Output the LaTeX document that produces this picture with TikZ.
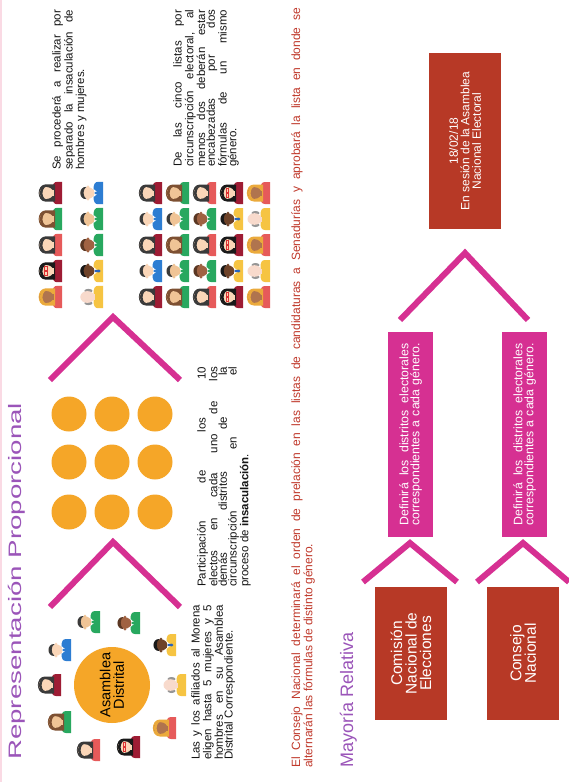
\documentclass[tikz,border=0pt]{standalone}
\usepackage{fontspec}
\setmainfont{Liberation Sans}
\usepackage{graphicx}

% palette
\definecolor{magentaA}{RGB}{214,48,146}
\definecolor{brick}{RGB}{183,57,38}
\definecolor{violetT}{RGB}{155,85,185}
\definecolor{orangeD}{RGB}{245,166,40}
\definecolor{redtext}{RGB}{192,57,43}
\definecolor{pinkedge}{RGB}{250,218,228}
\definecolor{bodytext}{RGB}{20,20,20}
% avatar palette
\definecolor{skinL}{RGB}{250,214,184}
\definecolor{skinB}{RGB}{240,196,150}
\definecolor{skinP}{RGB}{248,218,204}
\definecolor{skinM}{RGB}{160,98,66}
\definecolor{skinD}{RGB}{110,66,40}
\definecolor{skinO}{RGB}{176,116,78}
\definecolor{hairK}{RGB}{25,25,25}
\definecolor{hairD}{RGB}{58,58,58}
\definecolor{hairN}{RGB}{125,80,50}
\definecolor{hairC}{RGB}{90,55,35}
\definecolor{hairO}{RGB}{235,170,60}
\definecolor{hairG}{RGB}{150,150,150}
\definecolor{shirtM}{RGB}{158,28,52}
\definecolor{shirtB}{RGB}{45,125,210}
\definecolor{shirtG}{RGB}{40,168,95}
\definecolor{shirtR}{RGB}{230,90,90}
\definecolor{shirtY}{RGB}{246,196,66}
\definecolor{tieB}{RGB}{40,100,190}
\definecolor{glassR}{RGB}{220,50,50}

\tikzset{
  heading/.style={rotate=90, inner sep=0, text=violetT, font=\fontsize{18}{18}\selectfont},
  body/.style={rotate=90, anchor=north west, inner sep=0, align=left, text=bodytext,
    font=\fontsize{11.5}{9.6}\selectfont},
  chev/.style={draw=magentaA, line width=6, line join=miter},
  dot/.style={circle, fill=orangeD, minimum size=35, inner sep=0},
  redbox/.style={rotate=90, fill=brick, text=white, align=center, inner sep=0},
  pinkbox/.style={rotate=90, fill=magentaA, text=white, align=left, inner sep=0,
    font=\fontsize{12.3}{11}\selectfont},
  icon/.style={rotate=90},
  % avatars: shirt, hair, neck, face
  pics/woman/.style n args={4}{code={
    \fill[#3] (-11,-12) -- (-11,-7) .. controls (-11,-3.5) and (-8,-2.5) .. (-4,-2.5)
      -- (4,-2.5) .. controls (8,-2.5) and (11,-3.5) .. (11,-7) -- (11,-12) -- cycle;
    \fill[#2] (-8.5,-5) -- (-8.5,4) .. controls (-8.5,13.5) and (8.5,13.5) .. (8.5,4)
      -- (8.5,-5) -- cycle;
    \fill[#1] (-2.5,-3.5) rectangle (2.5,0);
    \fill[#1] (0,3.5) ellipse [x radius=5.8, y radius=6.8];
    \fill[#2] (-6,5) .. controls (-6,12) and (6,12) .. (6,5)
      .. controls (2,8.5) and (-3,8) .. (-6,5) -- cycle;
    \path[draw=#4, line width=0.9] (-4.8,2.4) rectangle (-0.9,5) (0.9,2.4) rectangle (4.8,5);
  }},
  pics/man/.style n args={4}{code={
    \fill[#3] (-11,-12) -- (-11,-7) .. controls (-11,-3.5) and (-8,-2.5) .. (-4,-2.5)
      -- (4,-2.5) .. controls (8,-2.5) and (11,-3.5) .. (11,-7) -- (11,-12) -- cycle;
    \fill[white] (-4,-2.5) -- (0,-7) -- (4,-2.5) -- cycle;
    \fill[#4] (-1,-3.5) -- (1,-3.5) -- (1.3,-8) -- (0,-9.5) -- (-1.3,-8) -- cycle;
    \fill[#1] (-2.5,-3.2) rectangle (2.5,0);
    \fill[#1] (-6,3) circle [radius=1.5] (6,3) circle [radius=1.5];
    \fill[#1] (0,3.5) ellipse [x radius=5.8, y radius=6.8];
    \fill[#2] (-6,4.5) .. controls (-6.5,12.5) and (6.5,12.5) .. (6,4.5)
      .. controls (4,8) and (-3,8.5) .. (-6,4.5) -- cycle;
  }},
  pics/bald/.style n args={3}{code={
    \fill[#3] (-11,-12) -- (-11,-7) .. controls (-11,-3.5) and (-8,-2.5) .. (-4,-2.5)
      -- (4,-2.5) .. controls (8,-2.5) and (11,-3.5) .. (11,-7) -- (11,-12) -- cycle;
    \fill[#1] (-2.5,-3.5) rectangle (2.5,0);
    \fill[#2] (-6,2.5) ellipse [x radius=2, y radius=4] (6,2.5) ellipse [x radius=2, y radius=4];
    \fill[#1] (0,3.5) ellipse [x radius=5.8, y radius=7];
  }},
  pics/wMaroon/.style={/tikz/pics/woman={skinL}{hairD}{shirtM}{none}},
  pics/wGlasses/.style={/tikz/pics/woman={skinL}{hairK}{shirtM}{glassR}},
  pics/wRed/.style={/tikz/pics/woman={skinL}{hairD}{shirtR}{none}},
  pics/wBrown/.style={/tikz/pics/woman={skinB}{hairN}{shirtG}{none}},
  pics/wOrange/.style={/tikz/pics/woman={skinO}{hairO}{shirtR}{none}},
  pics/mBlue/.style={/tikz/pics/man={skinL}{hairD}{shirtB}{shirtB}},
  pics/mBeige/.style={/tikz/pics/man={skinB}{hairD}{shirtG}{shirtG}},
  pics/mBrown/.style={/tikz/pics/man={skinM}{hairC}{shirtG}{shirtG}},
  pics/mDark/.style={/tikz/pics/man={skinD}{hairK}{shirtY}{tieB}},
  pics/mBald/.style={/tikz/pics/bald={skinP}{hairG}{shirtY}},
}

\begin{document}
\begin{tikzpicture}[x=1pt,y=1pt]
\useasboundingbox (0,0) rectangle (569,-782);
\fill[white] (0,0) rectangle (569,-782);
\draw[pinkedge, line width=1.5] (0.8,0) -- (0.8,-782);

% ---------- Representación Proporcional ----------
\node[heading, anchor=base west] (tRP) at (21.5,-760)
  {\resizebox{357pt}{\height}{Representación Proporcional}};

\node[circle, fill=orangeD, minimum size=76, inner sep=0, align=center, rotate=90,
  font=\fontsize{14.5}{13.5}\selectfont] (asam) at (112,-685) {Asamblea\\Distrital};

% members around the district assembly
\pic[icon] at (88,-622)  {mBeige};
\pic[icon] at (128,-623) {mBrown};
\pic[icon] at (59,-650)  {mBlue};
\pic[icon] at (164,-645) {mDark};
\pic[icon] at (49,-685)  {wMaroon};
\pic[icon] at (174,-685) {mBald};
\pic[icon] at (59,-722)  {wBrown};
\pic[icon] at (164,-728) {wOrange};
\pic[icon] at (88,-750)  {wRed};
\pic[icon] at (128,-747) {wGlasses};

\node[body] (pAfil) at (191,-760)
  {\makebox[155pt][s]{Las y los afiliados al Morena}\\
   \makebox[155pt][s]{eligen hasta 5 mujeres y 5}\\
   \makebox[155pt][s]{hombres en su Asamblea}\\
   Distrital Correspondiente.};

\draw[chev] (50,-607) -- (113,-542) -- (180,-607);

% the ten elected per district
\foreach \cx [count=\i] in {69,112,155}
  \foreach \cy [count=\j] in {414,462,512}
    \node[dot] (d\i\j) at (\cx,-\cy) {};

\node[body] (pPart) at (197,-587)
  {\makebox[220pt][s]{Participación de los 10}\\
   \makebox[220pt][s]{electos en cada uno de los}\\
   \makebox[220pt][s]{demás distritos de la}\\
   \makebox[220pt][s]{circunscripción en el}\\
   proceso de \textbf{insaculación}.};

\draw[chev] (50,-380) -- (113,-317) -- (180,-380);

% separate draw: women above, men below
\pic[icon, scale=1.02] at (50,-193) {wMaroon};
\pic[icon, scale=1.02] at (50,-219) {wBrown};
\pic[icon, scale=1.02] at (50,-245) {wRed};
\pic[icon, scale=1.02] at (50,-271) {wGlasses};
\pic[icon, scale=1.02] at (50,-297) {wOrange};
\pic[icon, scale=1.02] at (91,-193) {mBlue};
\pic[icon, scale=1.02] at (91,-219) {mBeige};
\pic[icon, scale=1.02] at (91,-245) {mBrown};
\pic[icon, scale=1.02] at (91,-271) {mDark};
\pic[icon, scale=1.02] at (91,-297) {mBald};

\node[body] (pSep) at (52,-170)
  {\makebox[160pt][s]{Se procederá a realizar por}\\
   \makebox[160pt][s]{separado la insaculación de}\\
   hombres y mujeres.};

% alternating lists
\foreach \cy in {193,245,297} {
  \pic[icon] at (150,-\cy) {wMaroon};
  \pic[icon] at (177,-\cy) {wBrown};
  \pic[icon] at (204,-\cy) {wRed};
  \pic[icon] at (231,-\cy) {wGlasses};
  \pic[icon] at (258,-\cy) {wOrange};
}
\foreach \cy in {219,271} {
  \pic[icon] at (150,-\cy) {mBlue};
  \pic[icon] at (177,-\cy) {mBeige};
  \pic[icon] at (204,-\cy) {mBrown};
  \pic[icon] at (231,-\cy) {mDark};
  \pic[icon] at (258,-\cy) {mBald};
}

\node[body] (pListas) at (173,-167)
  {\makebox[157pt][s]{De las cinco listas por}\\
   \makebox[157pt][s]{circunscripción electoral, al}\\
   \makebox[157pt][s]{menos dos deberán estar}\\
   \makebox[157pt][s]{encabezadas por dos}\\
   \makebox[157pt][s]{fórmulas de un mismo}\\
   género.};

% ---------- note ----------
\node[body, text=redtext, font=\fontsize{12}{9.8}\selectfont] (nota) at (291,-768)
  {\makebox[760pt][s]{El Consejo Nacional determinará el orden de prelación en las listas de candidaturas a Senadurías y aprobará la lista en donde se}\\
   alternarán las fórmulas de distinto género.};

% ---------- Mayoría Relativa ----------
\node[heading, anchor=base west] (tMR) at (353,-768) {Mayoría Relativa};

\node[redbox, minimum width=133, minimum height=72, font=\fontsize{15.5}{14.5}\selectfont]
  (cne) at (411,-653.5) {Comisión\\Nacional de\\Elecciones};
\node[redbox, minimum width=133, minimum height=72, font=\fontsize{15.5}{14.5}\selectfont]
  (cn) at (523,-653.5) {Consejo\\Nacional};

\draw[chev] (363,-582) -- (410,-543) -- (457,-582);
\draw[chev] (477,-582) -- (523,-543) -- (569,-582);

\node[pinkbox, minimum width=205, minimum height=45] (def1) at (410.5,-434.5)
  {\makebox[182pt][s]{Definirá los distritos electorales}\\
   \makebox[182pt][s]{correspondientes a cada género.}};
\node[pinkbox, minimum width=205, minimum height=45] (def2) at (524.5,-434.5)
  {\makebox[182pt][s]{Definirá los distritos electorales}\\
   \makebox[182pt][s]{correspondientes a cada género.}};

\draw[chev] (400,-320) -- (465,-253) -- (528,-320);

\node[redbox, minimum width=176, minimum height=72, font=\fontsize{12}{11.5}\selectfont]
  (fecha) at (465,-141) {18/02/18\\En sesión de la Asamblea\\Nacional Electoral};
\end{tikzpicture}
\end{document}
